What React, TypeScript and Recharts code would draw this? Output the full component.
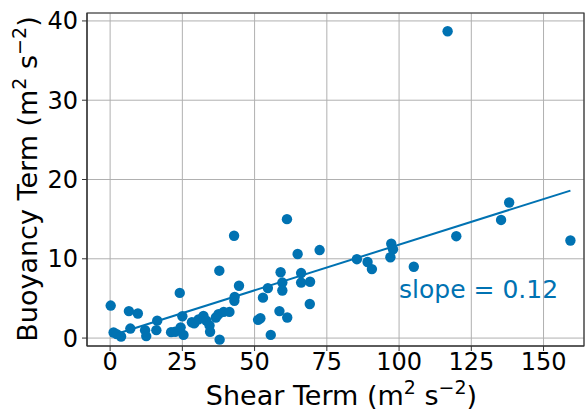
import {
  ScatterChart,
  Scatter,
  XAxis,
  YAxis,
  CartesianGrid,
  ReferenceArea,
  ReferenceDot,
  Label,
} from "recharts";

const shearTerm: number[] = [
  0.2, 1.2, 2.3, 3.8, 6.5, 7.0, 9.6, 12.1, 12.5, 16.0, 16.3, 21.1, 22.5, 24.1,
  24.4, 25.0, 25.4, 28.3, 29.1, 30.6, 32.3, 33.3, 34.4, 34.6, 36.6, 37.5, 37.8,
  37.9, 39.3, 41.3, 42.9, 43.0, 43.1, 44.6, 51.2, 52.0, 52.9, 54.6, 55.6, 58.6,
  59.0, 59.6, 59.6, 61.2, 61.3, 64.9, 66.1, 66.1, 69.2, 69.1, 72.5, 85.4, 89.1,
  90.6, 97.3, 97.9, 97.0, 105.1, 116.8, 119.8, 135.3, 138.1, 159.3,
];

const buoyancyTerm: number[] = [
  4.1, 0.7, 0.5, 0.2, 3.4, 1.2, 3.1, 1.0, 0.25, 1.0, 2.2, 0.75, 0.8, 5.7,
  1.35, 2.75, 0.4, 2.0, 1.85, 2.35, 2.8, 2.2, 1.6, 0.8, 2.6, 3.0, 8.5,
  -0.2, 3.3, 3.3, 12.9, 4.7, 5.2, 6.6, 2.3, 2.5, 5.1, 6.3, 0.4, 3.4,
  8.3, 7.0, 6.0, 15.0, 2.6, 10.6, 8.2, 7.0, 7.1, 4.3, 11.1, 9.95, 9.6,
  8.7, 11.9, 11.2, 10.2, 9.0, 38.7, 12.85, 14.9, 17.1, 12.3,
];

// end points of the fitted line
const fitX: number[] = [0.2, 159.3];
const fitY: number[] = [0.3, 18.6];

const xTicks: number[] = [0, 25, 50, 75, 100, 125, 150];
const yTicks: number[] = [0, 10, 20, 30, 40];
const slopeText = "slope = 0.12";

const BLUE = "#0072B2";
const FONT = "DejaVu Sans";

const points = shearTerm.map((x, i) => ({ x, y: buoyancyTerm[i] }));
const fitLine = fitX.map((x, i) => ({ x, y: fitY[i] }));

const Dot = (props: any) => (
  <circle cx={props.cx} cy={props.cy} r={5.2} fill={BLUE} />
);

const XLabel = ({ viewBox }: any) => {
  const cx = viewBox.x + viewBox.width / 2 + 6;
  return (
    <text x={cx} y={405} textAnchor="middle" fontSize={27} fontFamily={FONT} fill="#000">
      Shear Term (m
      <tspan dy={-11} fontSize={19}>2</tspan>
      <tspan dy={11}> s</tspan>
      <tspan dy={-11} fontSize={19}>−2</tspan>
      <tspan dy={11}>)</tspan>
    </text>
  );
};

const YLabel = () => (
  <text
    x={0}
    y={0}
    transform="translate(37,179) rotate(-90)"
    textAnchor="middle"
    fontSize={27}
    fontFamily={FONT}
    fill="#000"
  >
    Buoyancy Term (m
    <tspan dy={-11} fontSize={19}>2</tspan>
    <tspan dy={11}> s</tspan>
    <tspan dy={-11} fontSize={19}>−2</tspan>
    <tspan dy={11}>)</tspan>
  </text>
);

const SlopeLabel = ({ viewBox }: any) => (
  <text x={viewBox.x} y={viewBox.y} fontSize={25} fontFamily={FONT} fill={BLUE}>
    {slopeText}
  </text>
);

const App = () => {
  return (
    <div style={{ position: "absolute", left: 0, top: 0, background: "#fff" }}>
      <ScatterChart
        width={585}
        height={409}
        margin={{ top: 13, right: 1, bottom: 0, left: 0 }}
      >
        <CartesianGrid stroke="#b0b0b0" strokeWidth={1} />
        <XAxis
          type="number"
          dataKey="x"
          domain={[-8, 164]}
          ticks={xTicks}
          allowDataOverflow
          height={63}
          tickSize={5}
          tickMargin={2}
          stroke="#333"
          tick={{ fontSize: 24, fontFamily: FONT, fill: "#000" }}
        >
          <Label content={<XLabel />} />
        </XAxis>
        <YAxis
          type="number"
          dataKey="y"
          domain={[-1, 41]}
          ticks={yTicks}
          allowDataOverflow
          width={87}
          tickSize={5}
          tickMargin={4}
          stroke="#333"
          tick={{ fontSize: 24, fontFamily: FONT, fill: "#000" }}
        >
          <Label content={<YLabel />} />
        </YAxis>
        <ReferenceArea
          x1={-8}
          x2={164}
          y1={-1}
          y2={41}
          fill="none"
          stroke="#333"
          strokeWidth={1.2}
        />
        <Scatter
          data={fitLine}
          line={{ stroke: BLUE, strokeWidth: 2 }}
          shape={() => null}
          isAnimationActive={false}
        />
        <Scatter data={points} shape={<Dot />} isAnimationActive={false} />
        <ReferenceDot x={100} y={5} r={0} label={<SlopeLabel />} />
      </ScatterChart>
    </div>
  );
};

export default App;
